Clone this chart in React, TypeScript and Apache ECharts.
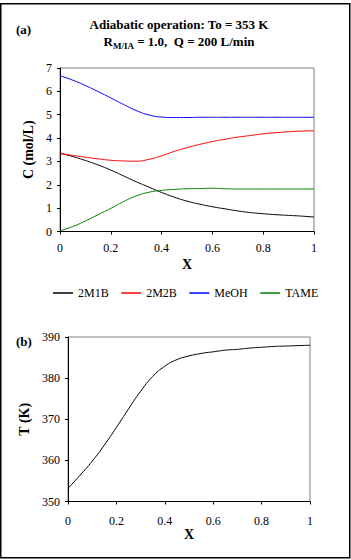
import React, { useEffect, useRef } from "react";
import * as echarts from "echarts";

const X = [0, 0.05, 0.1, 0.15, 0.2, 0.25, 0.3, 0.35, 0.4, 0.45, 0.5, 0.55, 0.6, 0.65, 0.7, 0.75, 0.8, 0.85, 0.9, 0.95, 1.0];
const C_2M1B = [3.36, 3.21, 3.04, 2.85, 2.63, 2.38, 2.13, 1.9, 1.67, 1.47, 1.3, 1.17, 1.06, 0.97, 0.88, 0.81, 0.76, 0.72, 0.69, 0.66, 0.62];
const C_2M2B = [3.33, 3.26, 3.18, 3.11, 3.05, 3.02, 3.01, 3.09, 3.24, 3.43, 3.59, 3.73, 3.85, 3.95, 4.04, 4.11, 4.18, 4.23, 4.27, 4.3, 4.31];
const C_MEOH = [6.67, 6.48, 6.25, 5.99, 5.72, 5.44, 5.18, 4.99, 4.9, 4.88, 4.88, 4.89, 4.89, 4.89, 4.89, 4.89, 4.89, 4.89, 4.89, 4.89, 4.89];
const C_TAME = [0.03, 0.21, 0.45, 0.72, 0.99, 1.28, 1.52, 1.68, 1.76, 1.8, 1.83, 1.84, 1.85, 1.83, 1.82, 1.82, 1.82, 1.82, 1.82, 1.82, 1.82];
const T_K = [353.2, 356.4, 359.8, 363.7, 368.0, 372.5, 376.8, 380.4, 382.9, 384.5, 385.4, 386.0, 386.4, 386.8, 387.0, 387.3, 387.5, 387.7, 387.8, 387.9, 388.0];

const SERIES_NAMES = ["2M1B", "2M2B", "MeOH", "TAME"];
const SERIES_COLORS = ["#000000", "#ff0000", "#0000ff", "#008000"];

const FONT = "Liberation Serif";

const pairs = (ys: number[]) => X.map((x, i) => [x, ys[i]]);

export default function App() {
  const ref = useRef<HTMLDivElement>(null);
  useEffect(() => {
    if (!ref.current) return;
    const chart = echarts.init(ref.current, null, { renderer: "svg" });
    const axisCommon = {
      axisLine: { show: true, lineStyle: { color: "#000", width: 1 } },
      axisTick: { show: true, length: 3, lineStyle: { color: "#000" } },
      splitLine: { show: false },
      nameTextStyle: { fontFamily: FONT, fontSize: 14, fontWeight: "bold", color: "#000" },
    };
    const xAxisCommon = (gridIndex: number, labelMargin: number, nameGap: number) => ({
      ...axisCommon,
      type: "value",
      gridIndex,
      min: 0,
      max: 1,
      interval: 0.2,
      name: "X",
      nameLocation: "middle",
      nameGap,
      axisLabel: { fontFamily: FONT, fontSize: 12, color: "#000", margin: labelMargin },
    });
    const lineSeries = (name: string, color: string, data: number[][], xi: number, yi: number) => ({
      name,
      type: "line",
      xAxisIndex: xi,
      yAxisIndex: yi,
      data,
      showSymbol: false,
      symbol: "none",
      smooth: 0.5,
      lineStyle: { color, width: 1 },
      itemStyle: { color },
    });
    const C_DATA = [C_2M1B, C_2M2B, C_MEOH, C_TAME];
    chart.setOption({
      animation: false,
      backgroundColor: "#fff",
      grid: [
        { left: 60, top: 68, width: 254, height: 163.5, show: true, borderColor: "#808080", borderWidth: 1 },
        { left: 68, top: 337, width: 242, height: 164.5, show: true, borderColor: "#808080", borderWidth: 1 },
      ],
      xAxis: [xAxisCommon(0, 10, 26), xAxisCommon(1, 13, 23)],
      yAxis: [
        {
          ...axisCommon,
          type: "value",
          gridIndex: 0,
          min: 0,
          max: 7,
          interval: 1,
          name: "C (mol/L)",
          nameLocation: "middle",
          nameGap: 19,
          axisLabel: { fontFamily: FONT, fontSize: 12, color: "#000", margin: 8 },
        },
        {
          ...axisCommon,
          type: "value",
          gridIndex: 1,
          min: 350,
          max: 390,
          interval: 10,
          name: "T (K)",
          nameLocation: "middle",
          nameGap: 30,
          axisLabel: { fontFamily: FONT, fontSize: 12, color: "#000", margin: 8 },
        },
      ],
      legend: {
        data: SERIES_NAMES,
        left: 48,
        top: 282,
        icon: "rect",
        itemWidth: 20,
        itemHeight: 1.5,
        itemGap: 12.5,
        textStyle: { fontFamily: FONT, fontSize: 12, color: "#000", padding: [0, 0, 0, 0] },
      },
      series: [
        ...SERIES_NAMES.map((n, i) => lineSeries(n, SERIES_COLORS[i], pairs(C_DATA[i]), 0, 0)),
        lineSeries("T", "#000000", pairs(T_K), 1, 1),
      ],
      graphic: [
        {
          type: "rect",
          shape: { x: 0.75, y: 3.75, width: 349, height: 554 },
          style: { fill: "none", stroke: "#000", lineWidth: 1.5 },
          silent: true,
        },
        {
          type: "text",
          x: 179,
          y: 24,
          style: {
            text: "Adiabatic operation: To = 353 K",
            fontFamily: FONT,
            fontSize: 13,
            fontWeight: "bold",
            fill: "#000",
            align: "center",
            verticalAlign: "middle",
          },
        },
        {
          type: "text",
          x: 179,
          y: 35,
          style: {
            text: "{n|R}{s|M/IA}{n| = 1.0,  Q = 200 L/min}",
            align: "center",
            verticalAlign: "top",
            fill: "#000",
            rich: {
              n: { fontFamily: FONT, fontSize: 13, fontWeight: "bold", lineHeight: 15, verticalAlign: "top", fill: "#000" },
              s: { fontFamily: FONT, fontSize: 9, fontWeight: "bold", lineHeight: 10, padding: [8, 0, 0, 0], verticalAlign: "bottom", fill: "#000" },
            },
          },
        },
        {
          type: "text",
          x: 16,
          y: 29,
          style: { text: "(a)", fontFamily: FONT, fontSize: 13, fontWeight: "bold", fill: "#000", verticalAlign: "middle" },
        },
        {
          type: "text",
          x: 16,
          y: 341,
          style: { text: "(b)", fontFamily: FONT, fontSize: 13, fontWeight: "bold", fill: "#000", verticalAlign: "middle" },
        },
      ],
    });
    return () => chart.dispose();
  }, []);
  return <div ref={ref} style={{ position: "absolute", left: 0, top: 0, width: 351, height: 560 }} />;
}
